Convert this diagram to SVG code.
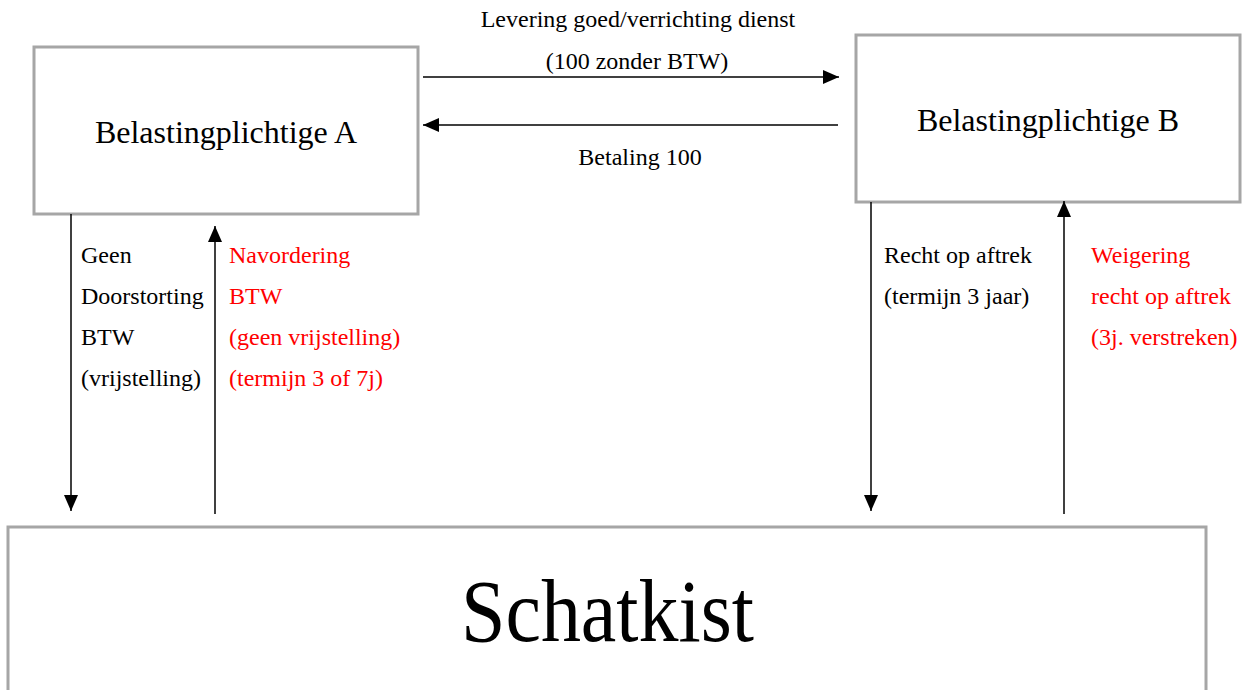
<svg xmlns="http://www.w3.org/2000/svg" width="1248" height="690" viewBox="0 0 1248 690">
  <style>
    .box { fill: #ffffff; stroke: #a6a6a6; stroke-width: 3; }
    .title { font-family: "Liberation Serif", "Times New Roman", serif; font-size: 32px; fill: #000; text-anchor: middle; }
    .lbl { font-family: "Liberation Serif", "Times New Roman", serif; font-size: 24px; fill: #000; }
    .red { fill: #ff0000; }
    .mid { text-anchor: middle; }
    .conn { stroke: #000; stroke-width: 1.5; fill: none; marker-end: url(#head); }
  </style>
  <defs>
    <marker id="head" markerUnits="userSpaceOnUse" markerWidth="16" markerHeight="14" refX="16" refY="7" orient="auto">
      <path d="M0,0 L16,7 L0,14 Z" fill="#000"/>
    </marker>
  </defs>
  <rect width="1248" height="690" fill="#ffffff"/>

  <g id="belastingplichtige-a">
    <rect class="box" x="34" y="47" width="384" height="167"/>
    <text class="title" x="226" y="143">Belastingplichtige A</text>
  </g>

  <g id="belastingplichtige-b">
    <rect class="box" x="856" y="35" width="384" height="167"/>
    <text class="title" x="1048" y="131">Belastingplichtige B</text>
  </g>

  <g id="schatkist">
    <rect class="box" x="8" y="527" width="1198" height="180"/>
    <text x="461" y="641" font-family="Liberation Serif, Times New Roman, serif" font-size="88" textLength="293" lengthAdjust="spacingAndGlyphs" fill="#000">Schatkist</text>
  </g>

  <g id="connectors">
    <line class="conn" x1="423" y1="77" x2="839" y2="77"/>
    <line class="conn" x1="838" y1="125" x2="423" y2="125"/>
    <line class="conn" x1="71" y1="214" x2="71" y2="511"/>
    <line class="conn" x1="215" y1="514" x2="215" y2="226"/>
    <line class="conn" x1="871" y1="202" x2="871" y2="511"/>
    <line class="conn" x1="1064" y1="514" x2="1064" y2="201"/>
  </g>

  <g id="labels">
    <text class="lbl mid" x="638" y="27">Levering goed/verrichting dienst</text>
    <text class="lbl mid" x="637" y="69">(100 zonder BTW)</text>
    <text class="lbl mid" x="640" y="165">Betaling 100</text>

    <text class="lbl" x="81" y="263">Geen</text>
    <text class="lbl" x="81" y="304">Doorstorting</text>
    <text class="lbl" x="81" y="345">BTW</text>
    <text class="lbl" x="81" y="386">(vrijstelling)</text>

    <text class="lbl red" x="229" y="263">Navordering</text>
    <text class="lbl red" x="229" y="304">BTW</text>
    <text class="lbl red" x="229" y="345">(geen vrijstelling)</text>
    <text class="lbl red" x="229" y="386">(termijn 3 of 7j)</text>

    <text class="lbl" x="884" y="263">Recht op aftrek</text>
    <text class="lbl" x="884" y="304">(termijn 3 jaar)</text>

    <text class="lbl red" x="1091" y="263">Weigering</text>
    <text class="lbl red" x="1091" y="304">recht op aftrek</text>
    <text class="lbl red" x="1091" y="345">(3j. verstreken)</text>
  </g>
</svg>
